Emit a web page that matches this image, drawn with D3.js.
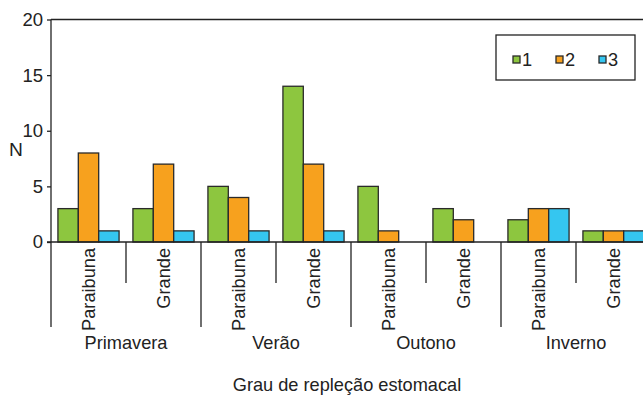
<!DOCTYPE html>
<html>
<head>
<meta charset="utf-8">
<script src="https://cdn.jsdelivr.net/npm/d3@7"></script>
<style>
  html, body { margin: 0; padding: 0; background: #fff; }
  svg { display: block; font-family: "Liberation Sans", Arial, sans-serif; }
</style>
</head>
<body>
<svg id="chart" width="643" height="397"></svg>
<script>
// Stomach fullness (repleção) counts per season and river
const seasons = ["Primavera", "Verão", "Outono", "Inverno"];
const rivers = ["Paraibuna", "Grande"];
const grades = ["1", "2", "3"];
const grade1 = [3, 3, 5, 14, 5, 3, 2, 1];
const grade2 = [8, 7, 4, 7, 1, 2, 3, 1];
const grade3 = [1, 1, 1, 1, 0, 0, 3, 1];
const yTicks = [0, 5, 10, 15, 20];
const colors = ["#8dc63f", "#f7a11e", "#35c6f0"];

const groups = [];
seasons.forEach(s => rivers.forEach(r => groups.push(s + "|" + r)));
const series = [grade1, grade2, grade3];

const svg = d3.select("#chart");
const plotLeft = 51, plotRight = 651, plotTop = 19.5, plotBase = 242;
const fs = 18.2;

const x = d3.scaleBand().domain(groups).range([plotLeft, plotRight]).padding(0);
const xs = d3.scaleBand().domain(grades).range([0, x.bandwidth()]).paddingInner(0).paddingOuter(0.34);
const xSeason = d3.scaleBand().domain(seasons).range([plotLeft, plotRight]).padding(0);
const y = d3.scaleLinear().domain([0, 20]).range([plotBase, plotTop]);

// frame (top + right)
svg.append("path")
  .attr("d", `M${plotLeft},${plotTop}H${plotRight}V${plotBase}`)
  .attr("fill", "none").attr("stroke", "#222").attr("stroke-width", 1.3);

// bars
const g = svg.append("g");
groups.forEach((grp, i) => {
  grades.forEach((gr, k) => {
    const v = series[k][i];
    if (v <= 0) return;
    g.append("rect")
      .attr("x", x(grp) + xs(gr))
      .attr("y", y(v))
      .attr("width", xs.bandwidth())
      .attr("height", y(0) - y(v))
      .attr("fill", colors[k])
      .attr("stroke", "#2a2a2a")
      .attr("stroke-width", 1.3);
  });
});

// y axis
const yAxis = d3.axisLeft(y).tickValues(yTicks).tickSize(4).tickPadding(4);
const ya = svg.append("g").attr("transform", `translate(${plotLeft},0)`).call(yAxis);
ya.select(".domain").remove();
ya.selectAll("line").attr("stroke", "#222").attr("stroke-width", 1.3);
ya.selectAll("text").attr("font-size", 18.5).attr("fill", "#222").attr("font-family", "Liberation Sans, Arial, sans-serif");

svg.append("line").attr("x1", plotLeft).attr("x2", plotLeft).attr("y1", plotTop).attr("y2", 327)
  .attr("stroke", "#222").attr("stroke-width", 1.3);

// baseline
svg.append("line").attr("x1", plotLeft - 4).attr("x2", plotRight).attr("y1", plotBase).attr("y2", plotBase)
  .attr("stroke", "#222").attr("stroke-width", 1.3);

// group separators: long between seasons, short between rivers
groups.forEach((grp, i) => {
  if (i === 0) return;
  const xx = x(grp);
  svg.append("line").attr("x1", xx).attr("x2", xx).attr("y1", plotBase)
    .attr("y2", i % 2 === 0 ? 327 : 283)
    .attr("stroke", "#222").attr("stroke-width", 1.3);
});

// river labels (rotated)
groups.forEach(grp => {
  const cx = x(grp) + x.bandwidth() / 2;
  svg.append("text")
    .attr("transform", `translate(${cx + 6},${plotBase + 6}) rotate(-90)`)
    .attr("text-anchor", "end")
    .attr("font-size", fs).attr("fill", "#222")
    .text(grp.split("|")[1]);
});

// season labels
seasons.forEach(s => {
  svg.append("text")
    .attr("x", xSeason(s) + xSeason.bandwidth() / 2)
    .attr("y", 349)
    .attr("text-anchor", "middle")
    .attr("font-size", fs).attr("fill", "#222")
    .text(s);
});

// axis titles
svg.append("text").attr("x", 347).attr("y", 391).attr("text-anchor", "middle")
  .attr("font-size", fs).attr("fill", "#222").text("Grau de repleção estomacal");
svg.append("text").attr("x", 16).attr("y", 156).attr("text-anchor", "middle")
  .attr("font-size", fs + 1).attr("fill", "#222").text("N");

// legend
const lg = svg.append("g");
lg.append("rect").attr("x", 496).attr("y", 35).attr("width", 139).attr("height", 45)
  .attr("fill", "#fff").attr("stroke", "#222").attr("stroke-width", 1.3);
const legX = [513, 556, 599];
grades.forEach((gr, k) => {
  lg.append("rect").attr("x", legX[k]).attr("y", 56).attr("width", 7).attr("height", 7)
    .attr("fill", colors[k]).attr("stroke", "#2a2a2a").attr("stroke-width", 1.3);
  lg.append("text").attr("x", legX[k] + 9).attr("y", 66)
    .attr("font-size", fs).attr("fill", "#222").text(gr);
});
</script>
</body>
</html>
